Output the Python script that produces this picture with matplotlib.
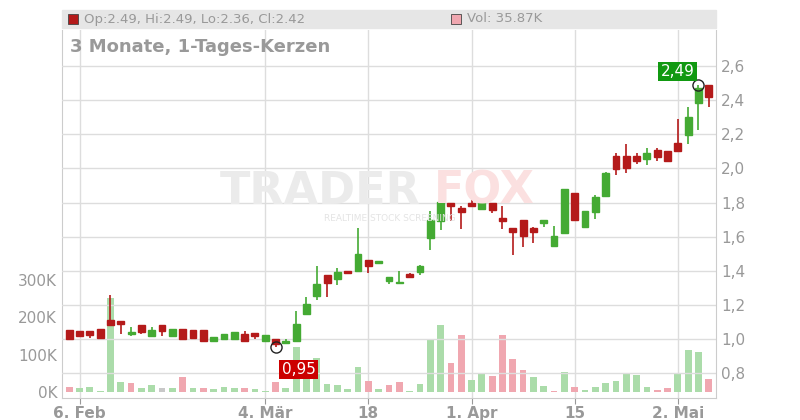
import matplotlib
matplotlib.use("Agg")
import matplotlib.pyplot as plt
from matplotlib.patches import Rectangle

opens = [1.05,1.046,1.046,1.058,1.111,1.105,1.031,1.082,1.019,1.082,1.019,1.056,1.052,1.052,0.986,0.997,0.997,1.029,1.034,0.990,
         1.0,0.978,0.990,1.148,1.254,1.375,1.353,1.398,1.400,1.461,1.447,1.342,1.326,1.382,1.394,1.594,1.693,1.797,1.768,1.797,
         1.762,1.795,1.709,1.650,1.697,1.650,1.682,1.547,1.621,1.856,1.658,1.744,1.838,2.073,2.073,2.073,2.055,2.108,2.102,2.149,
         2.198,2.384,2.49]
closes = [1.00,1.019,1.023,1.007,1.082,1.089,1.040,1.042,1.052,1.048,1.058,0.997,1.007,0.990,1.011,1.029,1.040,0.990,1.019,1.025,
          0.970,0.990,1.087,1.205,1.322,1.330,1.392,1.384,1.498,1.430,1.457,1.363,1.334,1.365,1.427,1.697,1.803,1.779,1.744,1.779,
          1.803,1.758,1.693,1.629,1.605,1.629,1.697,1.603,1.879,1.697,1.750,1.834,1.973,1.996,2.002,2.045,2.090,2.069,2.045,2.104,
          2.302,2.472,2.42]
highs = [1.05,1.046,1.046,1.058,1.257,1.105,1.072,1.082,1.068,1.082,1.058,1.060,1.052,1.052,1.011,1.029,1.040,1.046,1.034,1.025,
         1.0,1.001,1.164,1.246,1.428,1.375,1.414,1.398,1.650,1.461,1.457,1.363,1.396,1.388,1.433,1.750,1.805,1.799,1.781,1.834,
         1.815,1.795,1.779,1.650,1.697,1.658,1.697,1.662,1.879,1.856,1.750,1.844,1.977,2.090,2.143,2.090,2.120,2.120,2.102,2.292,
         2.360,2.49,2.49]
lows = [1.00,1.019,1.007,1.007,1.082,1.029,1.019,1.031,1.019,1.019,1.019,0.997,1.003,0.990,0.986,0.997,0.997,0.990,0.999,0.990,
        0.95,0.978,0.990,1.148,1.226,1.248,1.316,1.380,1.392,1.388,1.447,1.324,1.326,1.365,1.377,1.521,1.639,1.692,1.645,1.779,
        1.756,1.740,1.645,1.494,1.541,1.564,1.658,1.547,1.617,1.697,1.658,1.705,1.838,1.961,1.973,2.026,2.018,2.043,2.045,2.104,
        2.145,2.225,2.36]
volumes = [14,12,14,3,252,27,25,12,18,12,12,40,10,12,7,14,10,12,7,3,
           27,10,120,45,92,22,18,7,67,30,7,20,27,3,22,140,180,78,153,32,
           48,43,153,88,58,40,16,3,53,14,5,14,24,29,48,45,14,5,11,51,
           113,107,36]
vol_dir = ['r','g','g','g','g','g','r','g','g','n','g','r','g','r','g','g','g','r','g','g',
           'r','g','g','g','g','g','g','g','g','r','g','r','r','g','g','g','g','r','r','g',
           'g','r','r','r','r','g','g','r','g','r','g','g','g','g','g','g','g','r','r','g',
           'g','g','r']
tick_idx = [1, 19, 29, 39, 49, 59]
tick_labels = ["6. Feb", "4. Mär", "18", "1. Apr", "15", "2. Mai"]
price_ticks = [0.8,1.0,1.2,1.4,1.6,1.8,2.0,2.2,2.4,2.6]
vol_ticks = [0,100,200,300]

GREEN = "#44aa33"; RED = "#b41a1a"
VCOL = {'g': "#abdcaa", 'r': "#f0a7b0", 'n': "#c8c8c8"}

fig = plt.figure(figsize=(8, 4.2), dpi=100)
axv = fig.add_axes([0.0775, 0.0524, 0.8175, 0.876])
ax = axv.twinx()
n = len(opens)
xs = list(range(n))

# watermark
fig.text(0.40, 0.545, "TRADER", fontsize=32, fontweight="bold", color="#ebebeb", ha="center", va="center", zorder=0)
fig.text(0.605, 0.545, "FOX", fontsize=32, fontweight="bold", color="#fbe0e0", ha="center", va="center", zorder=0)
fig.text(0.487, 0.48, "REALTIME STOCK SCREENING", fontsize=6.5, color="#e4e4e4", ha="center", va="center", zorder=0)
axv.patch.set_alpha(0)
ax.patch.set_alpha(0)

axv.bar(xs, volumes, width=0.65, color=[VCOL[d] for d in vol_dir], zorder=2)
axv.set_ylim(-16, 970)
axv.set_yticks(vol_ticks)
axv.set_yticklabels([f"{v}K" for v in vol_ticks])
axv.set_xlim(-0.7, n - 0.3)
axv.set_xticks(tick_idx)
axv.set_xticklabels(tick_labels)
for t in tick_idx:
    axv.axvline(t, color="#dddddd", lw=1, zorder=0)

for i in xs:
    o, c, h, l = opens[i], closes[i], highs[i], lows[i]
    col = GREEN if c >= o else RED
    ax.vlines(i, l, h, color=col, lw=1.2, zorder=3)
    lo_b, hi_b = min(o, c), max(o, c)
    ax.add_patch(Rectangle((i - 0.33, lo_b), 0.66, max(hi_b - lo_b, 0.006), color=col, zorder=4))
ax.set_ylim(0.653, 2.812)
ax.set_yticks(price_ticks)
ax.set_yticklabels([f"{p:.1f}".replace(".", ",") for p in price_ticks])
ax.grid(axis="y", color="#dddddd", lw=1)
ax.set_axisbelow(True)

for a in (ax, axv):
    for s in a.spines.values():
        s.set_visible(False)
    a.tick_params(colors="#999999", labelsize=11, length=0)
axv.spines["bottom"].set_visible(True)
axv.spines["bottom"].set_color("#cccccc")
axv.tick_params(axis="x", length=4, colors="#999999", labelsize=11, pad=2)
for lbl in axv.get_xticklabels():
    lbl.set_fontweight("bold")
ax.spines["right"].set_visible(True); ax.spines["right"].set_color("#cccccc")
axv.spines["left"].set_visible(True); axv.spines["left"].set_color("#cccccc")

# markers & labels
ax.plot(20, lows[20], 'o', mfc="none", mec="#222222", ms=8, zorder=6)
ax.text(20.6, lows[20] - 0.13, "0,95", color="white", fontsize=11, va="center", ha="left",
        bbox=dict(boxstyle="square,pad=0.15", fc="#cc0000", ec="none"), zorder=7)
ax.plot(61, highs[61], 'o', mfc="none", mec="#222222", ms=8, zorder=6)
ax.text(60.6, highs[61] + 0.08, "2,49", color="white", fontsize=11, va="center", ha="right",
        bbox=dict(boxstyle="square,pad=0.15", fc="#119911", ec="none"), zorder=7)

# header
fig.patches.append(Rectangle((62/800, 1-28/420), 654/800, 18/420, transform=fig.transFigure, color="#e6e6e6", zorder=0))
fig.patches.append(Rectangle((68/800, 1-24/420), 10/800, 10/420, transform=fig.transFigure, fc=RED, ec="#444444", lw=0.6))
fig.text(84/800, 1-19/420, "Op:2.49, Hi:2.49, Lo:2.36, Cl:2.42", fontsize=9.5, color="#999999", va="center")
fig.patches.append(Rectangle((451/800, 1-24/420), 10/800, 10/420, transform=fig.transFigure, fc="#f0a7b0", ec="#444444", lw=0.6))
fig.text(467/800, 1-19/420, "Vol: 35.87K", fontsize=9.5, color="#999999", va="center")
fig.text(70/800, 1-47/420, "3 Monate, 1-Tages-Kerzen", fontsize=13, fontweight="bold", color="#999999", va="center")

fig.savefig("out.png", dpi=100)
